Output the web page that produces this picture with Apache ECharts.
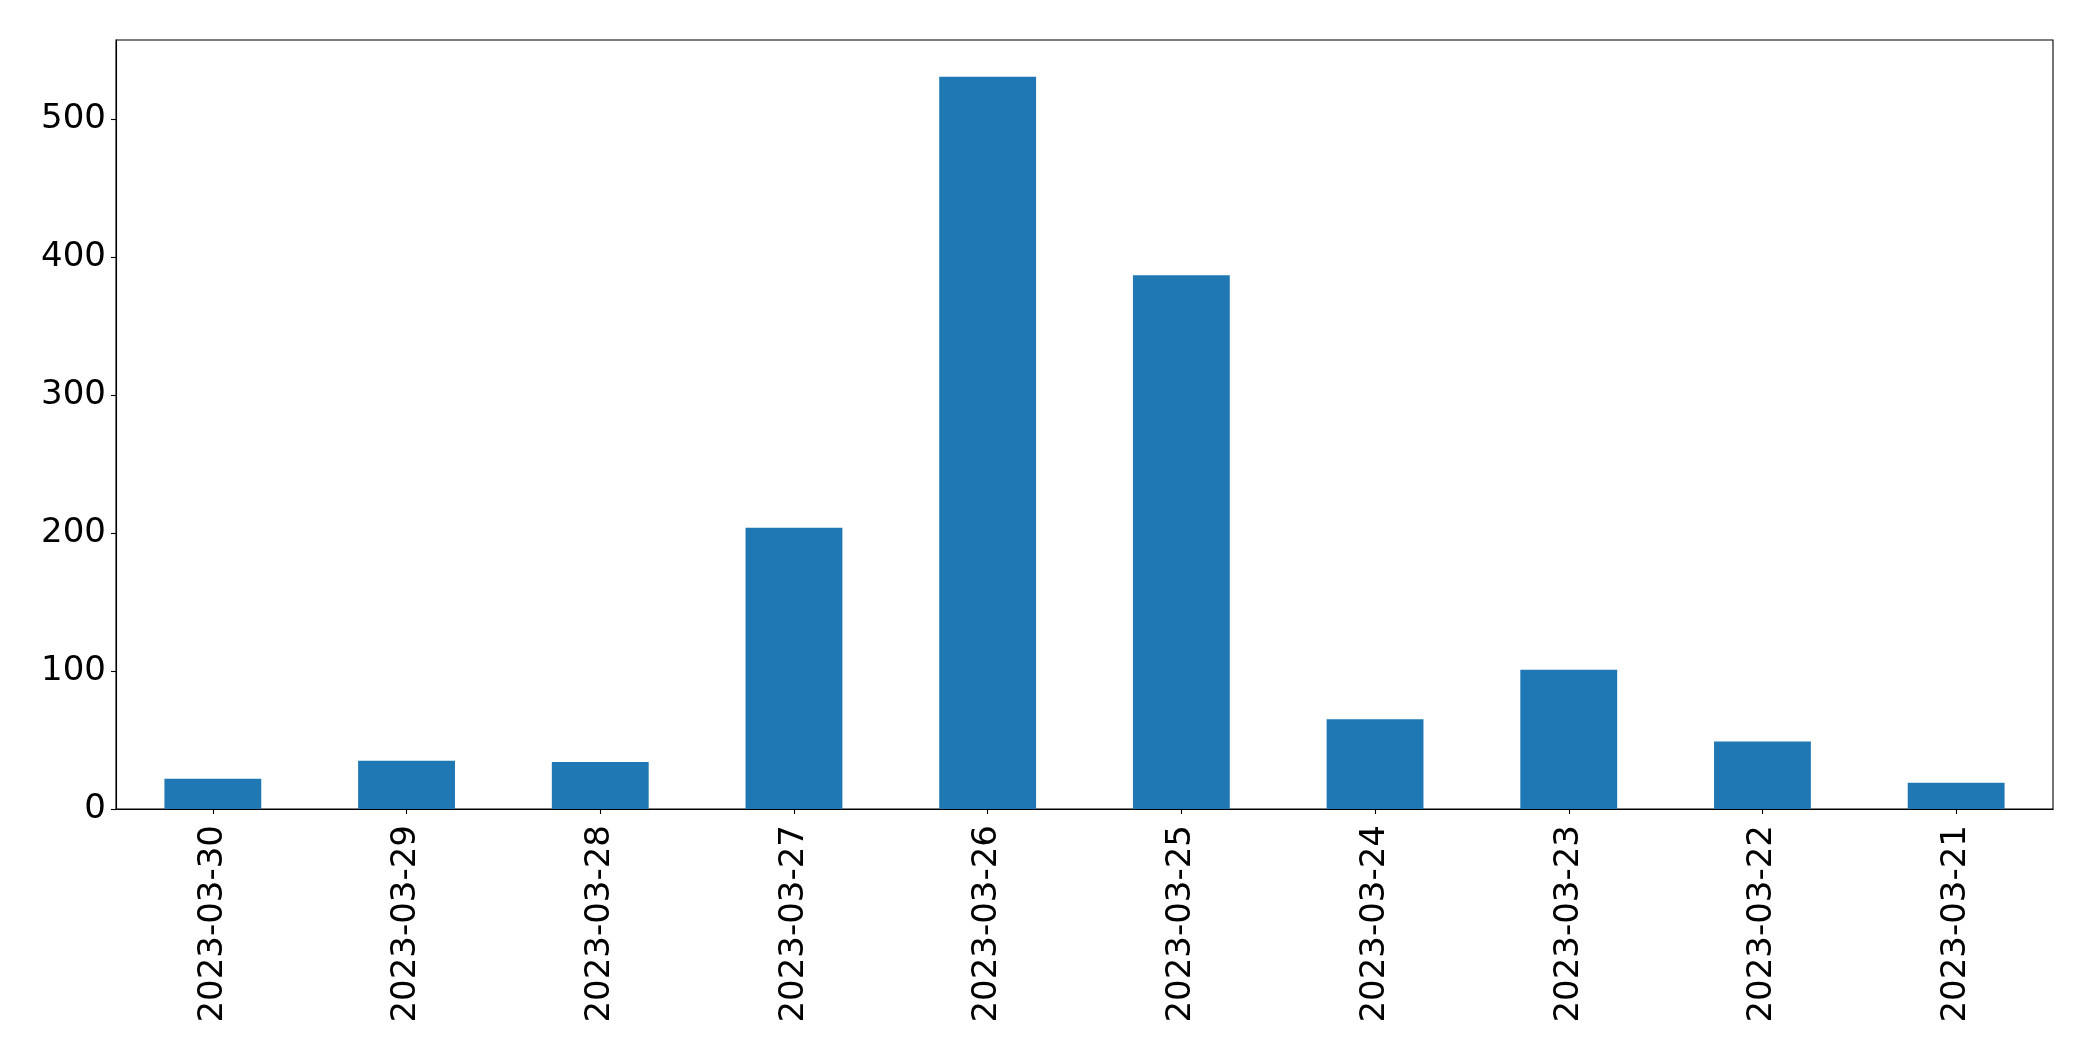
<!DOCTYPE html>
<html>
<head>
<meta charset="utf-8">
<script src="https://cdn.jsdelivr.net/npm/echarts@6/dist/echarts.min.js"></script>
<style>
html,body{margin:0;padding:0;background:#fff;}
#chart{width:2093px;height:1061px;}
</style>
</head>
<body>
<div id="chart"></div>
<script>
const categories = ["2023-03-30","2023-03-29","2023-03-28","2023-03-27","2023-03-26","2023-03-25","2023-03-24","2023-03-23","2023-03-22","2023-03-21"];
const values = [22, 35, 34, 204, 531, 387, 65, 101, 49, 19];
const yTicks = [0, 100, 200, 300, 400, 500];

const chart = echarts.init(document.getElementById('chart'), null, {renderer: 'canvas'});
const font = 'DejaVu Sans';
chart.setOption({
  animation: false,
  backgroundColor: '#fff',
  grid: {left: 116, right: 40, top: 40, bottom: 252, show: true, borderColor: '#000', borderWidth: 1.1, containLabel: false},
  xAxis: {
    type: 'category',
    data: categories,
    axisLine: {show: true, lineStyle: {color: '#000', width: 1.1}},
    axisTick: {show: true, alignWithLabel: true, length: 5, lineStyle: {color: '#000', width: 1.1}},
    axisLabel: {rotate: 90, interval: 0, margin: 16, color: '#000', fontSize: 34, fontFamily: font},
    splitLine: {show: false}
  },
  yAxis: {
    type: 'value',
    min: 0,
    max: 557.65,
    interval: 100,
    axisLine: {show: true, lineStyle: {color: '#000', width: 1.1}},
    axisTick: {show: true, length: 5, lineStyle: {color: '#000', width: 1.1}},
    axisLabel: {
      margin: 10, color: '#000', fontSize: 34, fontFamily: font, showMaxLabel: false,
      formatter: function (v) { return yTicks.indexOf(v) >= 0 ? String(v) : ''; }
    },
    splitLine: {show: false}
  },
  series: [{
    type: 'bar',
    data: values,
    barWidth: '50%',
    itemStyle: {color: '#1f77b4'}
  }]
});
</script>
</body>
</html>
